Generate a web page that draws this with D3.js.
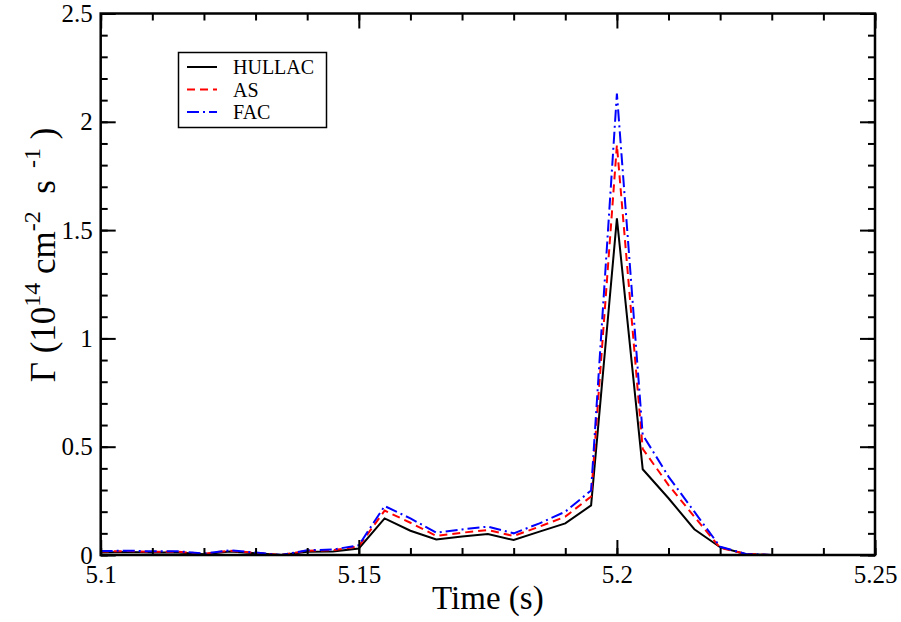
<!DOCTYPE html>
<html>
<head>
<meta charset="utf-8">
<script src="https://cdn.jsdelivr.net/npm/d3@7/dist/d3.min.js"></script>
<style>
  body { margin: 0; background: #fff; }
  svg { display: block; }
  svg text { font-family: "Liberation Serif", "Times New Roman", Times, serif; }
</style>
</head>
<body>
<svg id="chart" width="901" height="622"></svg>
<script>
// time samples (s)
var times = [5.1, 5.105, 5.11, 5.115, 5.12, 5.125, 5.13, 5.135, 5.14, 5.145,
             5.15, 5.155, 5.16, 5.165, 5.17, 5.175, 5.18, 5.185, 5.19, 5.195,
             5.2, 5.205, 5.21, 5.215, 5.22, 5.225, 5.23, 5.235, 5.24, 5.245, 5.25];

var hullac = [0.012, 0.014, 0.012, 0.012, 0.004, 0.016, 0.008, 0, 0.015, 0.016,
              0.03, 0.169, 0.112, 0.072, 0.085, 0.097, 0.069, 0.108, 0.146, 0.229,
              1.554, 0.396, 0.262, 0.119, 0.036, 0.004, 0, 0, 0, 0, 0];
var as = [0.016, 0.018, 0.015, 0.015, 0.006, 0.02, 0.01, 0, 0.02, 0.022,
          0.04, 0.205, 0.149, 0.088, 0.103, 0.115, 0.088, 0.131, 0.177, 0.27,
          1.893, 0.49, 0.323, 0.177, 0.033, 0.005, 0, 0, 0, 0, 0];
var fac = [0.018, 0.02, 0.017, 0.017, 0.007, 0.022, 0.011, 0, 0.022, 0.025,
           0.045, 0.226, 0.169, 0.103, 0.118, 0.131, 0.1, 0.146, 0.2, 0.298,
           2.13, 0.555, 0.362, 0.2, 0.038, 0.005, 0, 0, 0, 0, 0];

var seriesNames = ["HULLAC", "AS", "FAC"];
var xTicks = [5.1, 5.15, 5.2, 5.25];
var yTicks = [0, 0.5, 1, 1.5, 2, 2.5];

var cfg = {
  left : 100.7,
  right : 875,
  top : 13.5,
  bottom : 555,
  major : 15,
  minor : 7
};

var serif = "'Liberation Serif', 'Times New Roman', Times, serif";

var styles = [
  {color : "#000000", dash : null},
  {color : "#ff0000", dash : "8,5"},
  {color : "#0000ff", dash : "12,4,2,4"}
];

var svg = d3.select("#chart");

var x = d3.scaleLinear().domain([5.1, 5.25]).range([cfg.left, cfg.right]);
var y = d3.scaleLinear().domain([0, 2.5]).range([cfg.bottom, cfg.top]);

var xMinor = d3.range(0, 16).map(function(i){ return 5.1 + i * 0.01; });
var yMinor = d3.range(0, 26).map(function(i){ return i * 0.1; });

// lines
var line = d3.line()
  .x(function(d){ return x(d[0]); })
  .y(function(d){ return y(d[1]); });

[hullac, as, fac].forEach(function(vals, k){
  var pts = times.map(function(t, i){ return [t, vals[i]]; });
  svg.append("path")
    .datum(pts)
    .attr("fill", "none")
    .attr("stroke", styles[k].color)
    .attr("stroke-width", 2)
    .attr("stroke-dasharray", styles[k].dash)
    .attr("d", line);
});

// axes: ticks point inward
function styleAxis(g){
  g.attr("font-family", null).attr("font-size", null);
  g.select(".domain").remove();
  g.selectAll(".tick line").attr("stroke", "#000").attr("stroke-width", 2);
  g.selectAll("text")
    .style("font-family", serif)
    .style("font-size", "25px")
    .attr("fill", "#000");
}

svg.append("g")
  .attr("transform", "translate(0," + cfg.bottom + ")")
  .call(d3.axisBottom(x).tickValues(xMinor).tickSizeInner(-cfg.minor).tickSizeOuter(0).tickFormat(""))
  .call(styleAxis);
svg.append("g")
  .attr("transform", "translate(0," + cfg.bottom + ")")
  .call(d3.axisBottom(x).tickValues(xTicks).tickSizeInner(-cfg.major).tickSizeOuter(0).tickPadding(10)
    .tickFormat(function(d){ return String(+d.toFixed(2)); }))
  .call(styleAxis);

svg.append("g")
  .attr("transform", "translate(0," + cfg.top + ")")
  .call(d3.axisTop(x).tickValues(xMinor).tickSizeInner(-cfg.minor).tickSizeOuter(0).tickFormat(""))
  .call(styleAxis);
svg.append("g")
  .attr("transform", "translate(0," + cfg.top + ")")
  .call(d3.axisTop(x).tickValues(xTicks).tickSizeInner(-cfg.major).tickSizeOuter(0).tickFormat(""))
  .call(styleAxis);

svg.append("g")
  .attr("transform", "translate(" + cfg.left + ",0)")
  .call(d3.axisLeft(y).tickValues(yMinor).tickSizeInner(-cfg.minor).tickSizeOuter(0).tickFormat(""))
  .call(styleAxis);
svg.append("g")
  .attr("transform", "translate(" + cfg.left + ",0)")
  .call(d3.axisLeft(y).tickValues(yTicks).tickSizeInner(-cfg.major).tickSizeOuter(0).tickPadding(8)
    .tickFormat(function(d){ return String(d); }))
  .call(styleAxis);

svg.append("g")
  .attr("transform", "translate(" + cfg.right + ",0)")
  .call(d3.axisRight(y).tickValues(yMinor).tickSizeInner(-cfg.minor).tickSizeOuter(0).tickFormat(""))
  .call(styleAxis);
svg.append("g")
  .attr("transform", "translate(" + cfg.right + ",0)")
  .call(d3.axisRight(y).tickValues(yTicks).tickSizeInner(-cfg.major).tickSizeOuter(0).tickFormat(""))
  .call(styleAxis);

// frame
svg.append("rect")
  .attr("x", cfg.left)
  .attr("y", cfg.top)
  .attr("width", cfg.right - cfg.left)
  .attr("height", cfg.bottom - cfg.top)
  .attr("fill", "none")
  .attr("stroke", "#000")
  .attr("stroke-width", 2.5);

// axis titles
svg.append("text")
  .attr("x", (cfg.left + cfg.right) / 2)
  .attr("y", 609)
  .attr("text-anchor", "middle")
  .style("font-size", "33px")
  .text("Time (s)");

var yt = svg.append("text")
  .attr("transform", "translate(55,255) rotate(-90)")
  .attr("text-anchor", "middle")
  .style("font-size", "35px")
  .style("white-space", "pre");
yt.append("tspan").text("\u0393 (10");
yt.append("tspan").style("font-size", "24px").attr("dy", -15).text("14");
yt.append("tspan").attr("dy", 15).text(" cm");
yt.append("tspan").style("font-size", "24px").attr("dy", -15).text("-2");
yt.append("tspan").attr("dy", 15).text("  s");
yt.append("tspan").style("font-size", "24px").attr("dy", -15).text("  -1");
yt.append("tspan").attr("dy", 15).text(" )");

// legend
var legend = svg.append("g");
legend.append("rect")
  .attr("x", 178.5)
  .attr("y", 52.5)
  .attr("width", 148)
  .attr("height", 75)
  .attr("fill", "#fff")
  .attr("stroke", "#000")
  .attr("stroke-width", 1.5);

seriesNames.forEach(function(name, k){
  var ly = 67 + k * 22.5;
  legend.append("line")
    .attr("x1", 187).attr("x2", 217)
    .attr("y1", ly).attr("y2", ly)
    .attr("stroke", styles[k].color)
    .attr("stroke-width", 2)
    .attr("stroke-dasharray", styles[k].dash);
  legend.append("text")
    .attr("x", 233)
    .attr("y", ly + 7)
    .style("font-size", "20px")
    .text(name);
});
</script>
</body>
</html>
